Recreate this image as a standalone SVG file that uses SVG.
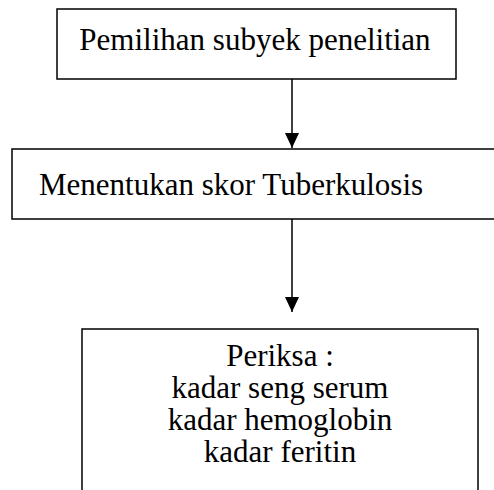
<svg xmlns="http://www.w3.org/2000/svg" width="494" height="490" viewBox="0 0 494 490">
<style>
.box{fill:#fff;stroke:#000;stroke-width:1.5}
.t{font-family:"Liberation Serif","Times New Roman",serif;font-size:31px;fill:#000}
.c{text-anchor:middle}
.ln{stroke:#000;stroke-width:1.5;fill:none}
</style>
<defs>
<marker id="ah" markerUnits="userSpaceOnUse" markerWidth="16" markerHeight="16" refX="15" refY="8" orient="auto">
<path d="M0,1 L15,8 L0,15 Z" fill="#000"/>
</marker>
</defs>
<rect width="494" height="490" fill="#fff"/>
<g id="connectors">
<line class="ln" x1="292" y1="79" x2="292" y2="148" marker-end="url(#ah)"/>
<line class="ln" x1="292" y1="219" x2="292" y2="312" marker-end="url(#ah)"/>
</g>
<g id="node1">
<rect class="box" x="57" y="9" width="399" height="70"/>
<text class="t c" x="255" y="50">Pemilihan subyek penelitian</text>
</g>
<g id="node2">
<rect class="box" x="12" y="149" width="500" height="70"/>
<text class="t" x="39" y="195">Menentukan skor Tuberkulosis</text>
</g>
<g id="node3">
<rect class="box" x="82" y="329" width="396" height="200"/>
<text class="t c" x="280" y="366">Periksa :</text>
<text class="t c" x="280" y="398">kadar seng serum</text>
<text class="t c" x="280" y="430">kadar hemoglobin</text>
<text class="t c" x="280" y="462">kadar feritin</text>
</g>
</svg>
